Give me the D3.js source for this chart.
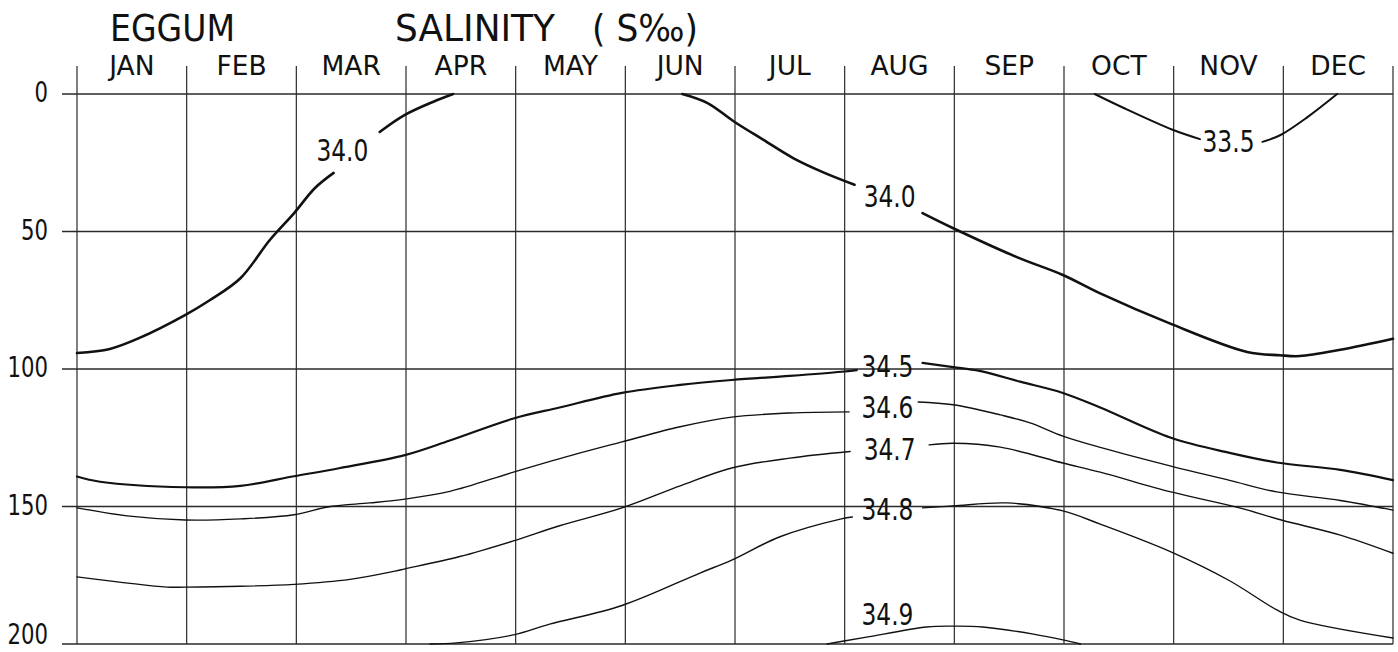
<!DOCTYPE html>
<html>
<head>
<meta charset="utf-8">
<script src="https://cdn.jsdelivr.net/npm/d3@7/dist/d3.min.js"></script>
<style>
  html, body { margin: 0; padding: 0; background: #fff; }
  svg { display: block; }
  text { font-family: "DejaVu Sans", sans-serif; fill: #111; }
</style>
</head>
<body>
<svg id="chart" width="1398" height="652"></svg>
<script>
// Eggum station: seasonal salinity section, isohalines by month and depth (m).
const station = "EGGUM";
const months = ["JAN","FEB","MAR","APR","MAY","JUN","JUL","AUG","SEP","OCT","NOV","DEC"];
const depthTicks = [0, 50, 100, 150, 200];

// Isohaline traces: [month position (0 = start of Jan, 12 = end of Dec), depth m].
// Each trace is split into pieces where its label sits.
const iso335 = [
  [[9.28,0],[9.54,5],[9.99,13],[10.24,16.4]],
  [[10.81,17.4],[10.97,15],[11.22,8.4],[11.49,0]]
];
const iso340 = [
  [[0,94.2],[0.30,92.7],[0.57,88.7],[0.985,80.4],[1.21,75],[1.49,67],[1.76,53],[1.98,43.3],[2.17,34.2],[2.34,28.7]],
  [[2.76,13.8],[2.99,7.6],[3.25,2.8],[3.43,0]],
  [[5.52,0],[5.75,3.3],[5.99,10],[6.26,16.7],[6.53,23.3],[6.80,28.4],[7.09,33]],
  [[7.71,43.3],[7.99,48.8],[8.57,59.3],[8.99,65.8],[9.33,72.5],[9.975,83.6],[10.67,93.8],[10.97,95],[11.15,95.3],[11.52,93],[12,89]]
];
const iso345 = [
  [[0,139.1],[0.21,141],[0.985,143],[1.49,142.5],[1.98,139],[2.40,136],[2.99,131.3],[3.40,126],[3.98,118],[4.40,114],[4.97,108.7],[5.50,105.8],[5.97,104],[6.50,102.5],[6.97,101],[7.11,100.4]],
  [[7.71,97.8],[7.99,99.3],[8.23,100.7],[8.60,104.6],[8.99,108.7],[9.33,114],[9.975,125],[10.51,130.5],[10.94,134],[11.52,136.7],[12,140.4]]
];
const iso346 = [
  [[0,150.5],[0.48,153.5],[0.985,154.9],[1.49,154.5],[1.98,153],[2.31,150],[2.67,148.7],[2.99,147.3],[3.40,144.5],[3.98,137.5],[4.50,131.5],[4.97,126.5],[5.50,121],[5.97,117.5],[6.50,116],[7.04,115.6]],
  [[7.67,112],[7.99,113],[8.42,116.7],[8.69,119.6],[8.99,124.4],[9.33,128.5],[9.975,135.3],[10.51,140.5],[10.94,144.7],[11.52,147.8],[12,151.3]]
];
const iso347 = [
  [[0,175.6],[0.82,179.3],[0.985,179.3],[1.49,179],[1.98,178.3],[2.49,176.5],[2.90,173.5],[2.99,172.7],[3.49,168.2],[3.98,162.5],[4.40,157],[4.97,150.5],[5.50,142.5],[5.97,136],[6.50,132.4],[7.05,130]],
  [[7.77,127.6],[7.99,127],[8.42,128.4],[8.99,134.2],[9.33,137.5],[9.975,144.7],[10.60,150.5],[10.99,155],[11.52,160.4],[12,167]]
];
const iso348 = [
  [[3.22,200],[3.46,199.6],[3.98,196.7],[4.31,192.8],[4.97,186],[5.68,174.2],[5.97,169.5],[6.41,161],[6.97,154.5],[7.07,153.8]],
  [[7.71,150.5],[7.99,149.8],[8.48,148.7],[8.99,151.6],[9.33,156.4],[9.975,166.5],[10.51,177],[10.94,187.6],[11.15,191.3],[12,197.8]]
];
const iso349 = [
  [[6.84,200],[6.98,199],[7.20,197.5],[7.75,193.8],[7.99,193.5],[8.26,193.8],[8.72,196.4],[8.99,198.5],[9.15,200]]
];

// Contour labels: text and anchor [month position, depth at text baseline].
const labelTexts = ["34.0", "34.0", "33.5", "34.5", "34.6", "34.7", "34.8", "34.9"];
const labelAnchors = [[2.42,24.4],[7.41,41.1],[10.50,21.1],[7.39,102.9],[7.39,117.8],[7.41,133.1],[7.39,154.9],[7.39,193.1]];

const isolines = [
  { pieces: iso335, w: 2.0 },
  { pieces: iso340, w: 2.6 },
  { pieces: iso345, w: 2.2 },
  { pieces: iso346, w: 1.4 },
  { pieces: iso347, w: 1.4 },
  { pieces: iso348, w: 1.4 },
  { pieces: iso349, w: 1.4 }
];

const svg = d3.select("#chart");
svg.append("rect").attr("width", 1398).attr("height", 652).attr("fill", "#fff");

const x = d3.scaleLinear().domain([0, 12]).range([77, 1393]);
const y = d3.scaleLinear().domain([0, 200]).range([94, 644]);

const gridColor = "#2a2a2a";

// Horizontal depth lines with a short tick to the left of the frame
svg.append("g").selectAll("line").data(depthTicks).join("line")
  .attr("x1", 62).attr("x2", x(12))
  .attr("y1", d => y(d)).attr("y2", d => y(d))
  .attr("stroke", gridColor).attr("stroke-width", 1.3);

// Month boundaries, rising a little above the surface line
svg.append("g").selectAll("line").data(d3.range(13)).join("line")
  .attr("x1", d => x(d)).attr("x2", d => x(d))
  .attr("y1", 66).attr("y2", y(200))
  .attr("stroke", gridColor).attr("stroke-width", 1.2);

// Depth labels (the lowest one kept inside the frame)
svg.append("g").selectAll("text").data(depthTicks).join("text")
  .attr("x", 48).attr("y", d => Math.min(y(d) + 8, 644))
  .attr("text-anchor", "end")
  .attr("font-size", 28)
  .attr("textLength", d => String(d).length * 13.5)
  .attr("lengthAdjust", "spacingAndGlyphs")
  .text(d => d);

// Month names, centred in each month
svg.append("g").selectAll("text").data(months).join("text")
  .attr("x", (d, i) => x(i + 0.5)).attr("y", 75)
  .attr("text-anchor", "middle")
  .attr("font-size", 26.5)
  .text(d => d);

// Title
svg.append("text").attr("x", 110).attr("y", 41)
  .attr("font-size", 38)
  .attr("textLength", 125).attr("lengthAdjust", "spacingAndGlyphs")
  .text(station);
const ttl = svg.append("text").attr("y", 41).attr("font-size", 38);
ttl.append("tspan").attr("x", 395)
  .attr("textLength", 160).attr("lengthAdjust", "spacingAndGlyphs")
  .text("SALINITY");
ttl.append("tspan").attr("x", 592)
  .attr("textLength", 106).attr("lengthAdjust", "spacingAndGlyphs")
  .text("( S‰)");

// Isohalines
const line = d3.line()
  .x(d => x(d[0])).y(d => y(d[1]))
  .curve(d3.curveCatmullRom.alpha(0.5));

const lg = svg.append("g").attr("fill", "none").attr("stroke", "#111")
  .attr("stroke-linejoin", "round").attr("stroke-linecap", "round");
isolines.forEach(iso => {
  lg.append("g").attr("stroke-width", iso.w)
    .selectAll("path").data(iso.pieces).join("path")
    .attr("d", line);
});

// Contour labels
svg.append("g").selectAll("text").data(labelTexts).join("text")
  .attr("x", (d, i) => x(labelAnchors[i][0]))
  .attr("y", (d, i) => y(labelAnchors[i][1]))
  .attr("text-anchor", "middle")
  .attr("font-size", 30)
  .attr("textLength", 52).attr("lengthAdjust", "spacingAndGlyphs")
  .text(d => d);
</script>
</body>
</html>
